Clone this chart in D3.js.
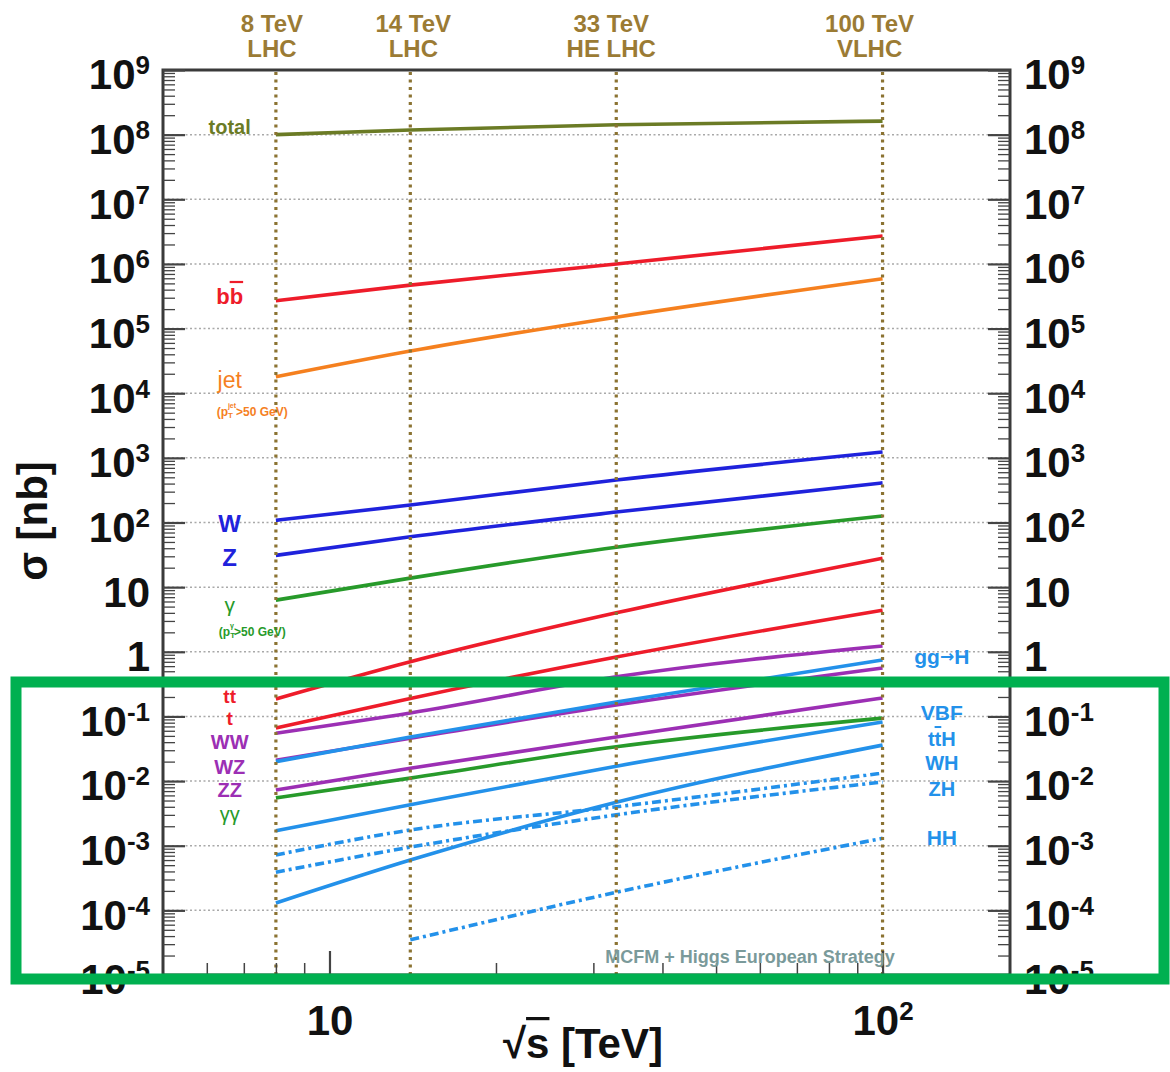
<!DOCTYPE html>
<html><head><meta charset="utf-8">
<script src="https://cdn.jsdelivr.net/npm/d3@7"></script>
<style>body{margin:0;background:#fff}svg{display:block}text{font-family:"Liberation Sans",Arial,sans-serif}</style>
</head><body><svg id="c" width="1170" height="1072"></svg>
<script>
// ---------------- data ----------------
const energies   = [8, 14, 33, 100];           // sqrt(s) in TeV
const energiesHH = [14, 33, 100];
const sigmaTotal = [1.0e8, 1.18e8, 1.42e8, 1.62e8];
const sigmaBB    = [2.7e5, 4.7e5, 1.0e6, 2.7e6];
const sigmaJet   = [1.8e4, 4.5e4, 1.5e5, 5.9e5];
const sigmaW     = [108, 186, 455, 1230];
const sigmaZ     = [31, 60, 145, 410];
const sigmaGamma = [6.3, 13.8, 41.5, 126];
const sigmaTT    = [0.186, 0.70, 4.0, 28];
const sigmaT     = [0.066, 0.19, 0.83, 4.4];
const sigmaWW    = [0.055, 0.113, 0.41, 1.23];
const sigmaWZ    = [0.021, 0.046, 0.15, 0.56];
const sigmaZZ    = [0.0073, 0.0158, 0.048, 0.193];
const sigmaGG    = [0.0055, 0.0111, 0.034, 0.094];
const sigmaggH   = [0.020, 0.048, 0.167, 0.745];
const sigmaVBF   = [0.0017, 0.0043, 0.017, 0.082];
const sigmaTTH   = [0.00013, 0.0006, 0.0047, 0.036];
const sigmaWH    = [0.00072, 0.00175, 0.004, 0.0133];
const sigmaZH    = [0.00039, 0.00095, 0.003, 0.0097];
const sigmaHH    = [3.5e-5, 1.9e-4, 1.3e-3];
const colliderEnergies = [8, 14, 33, 100];
const colliderLabels = [["8 TeV","LHC"],["14 TeV","LHC"],["33 TeV","HE LHC"],["100 TeV","VLHC"]];
const yTickExponents = d3.range(-5, 10);
const xTickExponents = [1, 2];
const xTitle = "s [TeV]";
const yTitle = "σ [nb]";
const creditText = "MCFM + Higgs European Strategy";

// ---------------- styles ----------------
const C = {
  total:"#6b7b25", red:"#ee1c2a", orange:"#f5801f", blue:"#1f22dc", green:"#279a2a",
  purple:"#9c2fb4", higgs:"#2391ea", gold:"#8b7332", goldText:"#9b7b34", credit:"#7a9a9a"
};
const series = [
  {e:energies, v:sigmaTotal, c:C.total},
  {e:energies, v:sigmaBB, c:C.red},
  {e:energies, v:sigmaJet, c:C.orange},
  {e:energies, v:sigmaW, c:C.blue},
  {e:energies, v:sigmaZ, c:C.blue},
  {e:energies, v:sigmaGamma, c:C.green},
  {e:energies, v:sigmaTT, c:C.red},
  {e:energies, v:sigmaT, c:C.red},
  {e:energies, v:sigmaWW, c:C.purple},
  {e:energies, v:sigmaWZ, c:C.purple},
  {e:energies, v:sigmaZZ, c:C.purple},
  {e:energies, v:sigmaGG, c:C.green},
  {e:energies, v:sigmaggH, c:C.higgs},
  {e:energies, v:sigmaVBF, c:C.higgs},
  {e:energies, v:sigmaTTH, c:C.higgs},
  {e:energies, v:sigmaWH, c:C.higgs, dash:"9,4,3,4"},
  {e:energies, v:sigmaZH, c:C.higgs, dash:"9,4,3,4"},
  {e:energiesHH, v:sigmaHH, c:C.higgs, dash:"9,4,3,4"}
];

// ---------------- layout ----------------
const X0 = 163, X1 = 1010, Y0 = 70, Y1 = 975;
const svg = d3.select("#c");
const x = d3.scaleLog().domain([5, 170]).range([X0, X1]);
const y = d3.scaleLog().domain([1e-5, 1e9]).range([Y1, Y0]);

// grid
svg.append("g").selectAll("line").data(yTickExponents).join("line")
  .attr("x1", X0).attr("x2", X1)
  .attr("y1", e => y(Math.pow(10, e))).attr("y2", e => y(Math.pow(10, e)))
  .attr("stroke", "#a9a9a9").attr("stroke-width", 1.5).attr("stroke-dasharray", "2,2.5");

// data lines
const line = d3.line().x(d => x(d[0])).y(d => y(d[1])).curve(d3.curveMonotoneX);
svg.append("g").selectAll("path").data(series).join("path")
  .attr("d", s => line(s.e.map((e, i) => [e, s.v[i]])))
  .attr("fill", "none").attr("stroke", s => s.c).attr("stroke-width", 3.6)
  .attr("stroke-dasharray", s => s.dash || null);

// collider vertical dotted lines
svg.append("g").selectAll("line").data(colliderEnergies).join("line")
  .attr("x1", d => x(d)).attr("x2", d => x(d)).attr("y1", Y0 + 2).attr("y2", Y1)
  .attr("stroke", C.gold).attr("stroke-width", 3.2).attr("stroke-dasharray", "3,4.5");

// frame
svg.append("rect").attr("x", X0).attr("y", Y0).attr("width", X1 - X0).attr("height", Y1 - Y0)
  .attr("fill", "none").attr("stroke", "#3a3a3a").attr("stroke-width", 3);

// ticks
const minorY = [];
yTickExponents.slice(0, -1).forEach(e => { for (let m = 2; m <= 9; m++) minorY.push(m * Math.pow(10, e)); });
const majorY = yTickExponents.map(e => Math.pow(10, e));
function tickAxis(axis, tr, w) {
  const g = svg.append("g").attr("transform", tr).call(axis);
  g.select(".domain").remove();
  g.selectAll("line").attr("stroke", "#444").attr("stroke-width", w);
  return g;
}
tickAxis(d3.axisLeft(y).tickValues(minorY).tickSize(-12).tickFormat(""), `translate(${X0},0)`, 1.3);
tickAxis(d3.axisLeft(y).tickValues(majorY).tickSize(-22).tickFormat(""), `translate(${X0},0)`, 2.2);
tickAxis(d3.axisRight(y).tickValues(minorY).tickSize(-12).tickFormat(""), `translate(${X1},0)`, 1.3);
tickAxis(d3.axisRight(y).tickValues(majorY).tickSize(-22).tickFormat(""), `translate(${X1},0)`, 2.2);
const minorX = [6, 7, 8, 9, 20, 30, 40, 50, 60, 70, 80, 90];
const majorX = xTickExponents.map(e => Math.pow(10, e));
tickAxis(d3.axisBottom(x).tickValues(minorX).tickSize(-12).tickFormat(""), `translate(0,${Y1})`, 1.5);
tickAxis(d3.axisBottom(x).tickValues(majorX).tickSize(-24).tickFormat(""), `translate(0,${Y1})`, 2.2);

// tick labels with superscripts
function powLabel(textSel, v) {
  const e = Math.round(Math.log10(v));
  textSel.text(null);
  if (e === 0) { textSel.append("tspan").text("1"); return; }
  textSel.append("tspan").text("10");
  if (e !== 1) textSel.append("tspan").attr("font-size", 26).attr("dy", -15).text(String(e));
}
function labelAxis(axis, tr, anchor, dy) {
  const g = svg.append("g").attr("transform", tr).call(axis);
  g.select(".domain").remove();
  g.selectAll(".tick line").remove();
  g.selectAll(".tick text").attr("font-size", 42).attr("font-weight", "bold").attr("fill", "#111")
    .attr("font-family", '"Liberation Sans",Arial,sans-serif')
    .attr("text-anchor", anchor).attr("dy", dy)
    .each(function (d) { powLabel(d3.select(this), d); });
}
labelAxis(d3.axisLeft(y).tickValues(majorY).tickSize(0).tickPadding(13), `translate(${X0},0)`, "end", "0.45em");
labelAxis(d3.axisRight(y).tickValues(majorY).tickSize(0).tickPadding(14), `translate(${X1},0)`, "start", "0.45em");
labelAxis(d3.axisBottom(x).tickValues(majorX).tickSize(0).tickPadding(30), `translate(0,${Y1})`, "middle", "0.71em");

// axis titles
const xt = svg.append("text").attr("x", 583).attr("y", 1058).attr("text-anchor", "middle")
  .attr("font-size", 42).attr("font-weight", "bold").attr("fill", "#111");
xt.append("tspan").text("√");
xt.append("tspan").text(xTitle.slice(0, 1)).style("text-decoration", "overline");
xt.append("tspan").text(xTitle.slice(1));
svg.append("text").attr("transform", "translate(47,521) rotate(-90)").attr("text-anchor", "middle")
  .attr("font-size", 42).attr("font-weight", "bold").attr("fill", "#111").text(yTitle);

// collider labels
const topOffsets = [-4, 3, -5, -13];
const tl = svg.append("g").selectAll("text").data(colliderEnergies).join("text")
  .attr("x", (d, i) => x(d) + topOffsets[i]).attr("y", Y0 - 38).attr("text-anchor", "middle")
  .attr("font-size", 24).attr("font-weight", "bold").attr("fill", C.goldText);
tl.append("tspan").text((d, i) => colliderLabels[i][0]);
tl.append("tspan").attr("x", (d, i) => x(d) + topOffsets[i]).attr("dy", 25).text((d, i) => colliderLabels[i][1]);

// process labels
function rich(sel, parts) {
  parts.forEach(p => {
    const ts = sel.append("tspan").text(p.t);
    if (p.over) ts.style("text-decoration", "overline");
    if (p.size) ts.attr("font-size", p.size);
    if (p.dy) ts.attr("dy", p.dy);
    if (p.dx) ts.attr("dx", p.dx);
    if (p.ff) ts.attr("font-family", p.ff);
  });
}
const labels = [
  {p:[{t:"total"}], xv:6.6, yv:1.31e8, c:C.total, s:20},
  {p:[{t:"b"},{t:"b",over:true}], xv:6.6, yv:3.2e5, c:C.red, s:22},
  {p:[{t:"jet"}], xv:6.6, yv:1.6e4, c:C.orange, s:23, w:"normal"},
  {p:[{t:"(p"},{t:"T",size:8,dy:3},{t:"jet",size:7,dx:-5,dy:-10},{t:">50 GeV)",dy:7}], xv:7.25, yv:5.1e3, c:C.orange, s:12},
  {p:[{t:"W"}], xv:6.6, yv:98, c:C.blue, s:24},
  {p:[{t:"Z"}], xv:6.6, yv:29, c:C.blue, s:24},
  {p:[{t:"γ"}], xv:6.6, yv:5.5, c:C.green, s:21, w:"normal"},
  {p:[{t:"(p"},{t:"T",size:8,dy:3},{t:"γ",size:7,dx:-5,dy:-10},{t:">50 GeV)",dy:7}], xv:7.25, yv:2.0, c:C.green, s:12},
  {p:[{t:"t"},{t:"t",over:true}], xv:6.6, yv:0.21, c:C.red, s:19},
  {p:[{t:"t"}], xv:6.6, yv:0.094, c:C.red, s:19},
  {p:[{t:"WW"}], xv:6.6, yv:0.04, c:C.purple, s:20},
  {p:[{t:"WZ"}], xv:6.6, yv:0.0168, c:C.purple, s:20},
  {p:[{t:"ZZ"}], xv:6.6, yv:0.0074, c:C.purple, s:20},
  {p:[{t:"γγ"}], xv:6.6, yv:0.0031, c:C.green, s:20, w:"normal"},
  {p:[{t:"gg"},{t:"→",ff:"DejaVu Sans",size:17},{t:"H"}], xv:128, yv:0.86, c:C.higgs, s:21},
  {p:[{t:"VBF"}], xv:128, yv:0.117, c:C.higgs, s:21},
  {p:[{t:"t"},{t:"t",over:true},{t:"H"}], xv:128, yv:0.0447, c:C.higgs, s:20},
  {p:[{t:"WH"}], xv:128, yv:0.019, c:C.higgs, s:20},
  {p:[{t:"ZH"}], xv:128, yv:0.0075, c:C.higgs, s:20},
  {p:[{t:"HH"}], xv:128, yv:0.00136, c:C.higgs, s:21}
];
labels.forEach(L => {
  const t = svg.append("text").attr("x", x(L.xv)).attr("y", y(L.yv)).attr("text-anchor", "middle")
    .attr("dominant-baseline", "central").attr("font-size", L.s).attr("font-weight", L.w || "bold")
    .attr("fill", L.c);
  rich(t, L.p);
});

svg.append("text").attr("x", x(57.6)).attr("y", y(1.9e-5)).attr("text-anchor", "middle")
  .attr("dominant-baseline", "central").attr("font-size", 18).attr("font-weight", "bold")
  .attr("fill", C.credit).text(creditText);

// highlight box
svg.append("rect").attr("x", 16).attr("y", 682).attr("width", 1148).attr("height", 297)
  .attr("fill", "none").attr("stroke", "#00b050").attr("stroke-width", 11);
</script></body></html>
